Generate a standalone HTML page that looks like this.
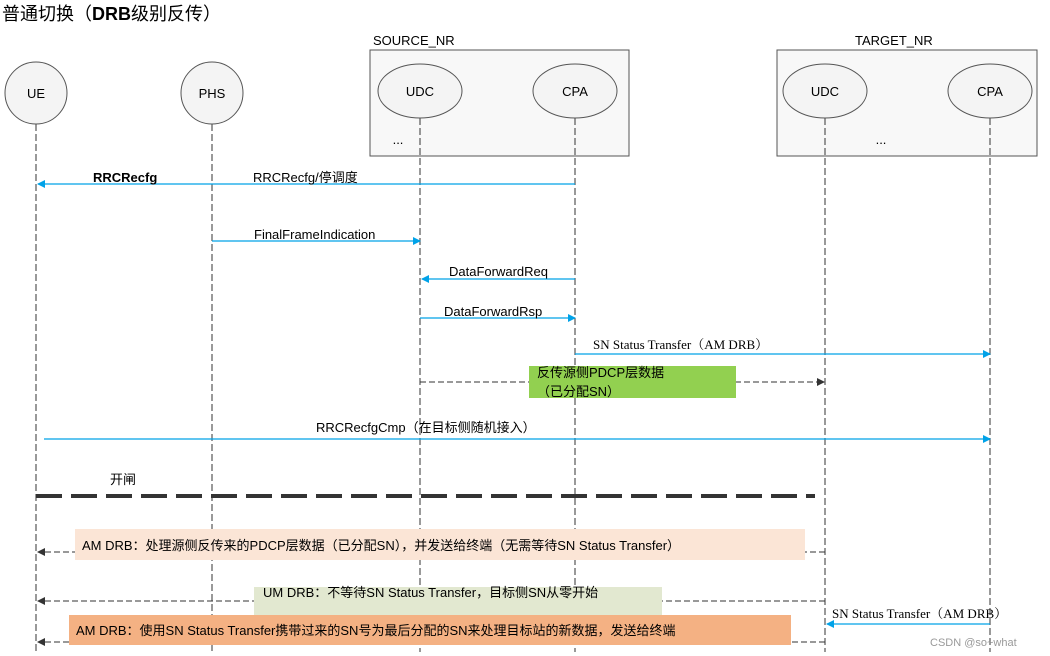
<!DOCTYPE html>
<html><head><meta charset="utf-8"><style>body{margin:0;background:#fff}svg{display:block}</style></head><body>
<svg width="1050" height="656" xmlns="http://www.w3.org/2000/svg" font-family="Liberation Sans, Noto Sans CJK SC, sans-serif">
<defs>
<marker id="ab" markerWidth="8" markerHeight="8" refX="7" refY="4" orient="auto" markerUnits="userSpaceOnUse"><path d="M0,0 L8,4 L0,8 Z" fill="#00a2e8"/></marker>
<marker id="ak" markerWidth="8" markerHeight="8" refX="7" refY="4" orient="auto" markerUnits="userSpaceOnUse"><path d="M0,0 L8,4 L0,8 Z" fill="#333"/></marker>
</defs>
<text x="2" y="20" font-size="18" fill="#000">普通切换（<tspan font-weight="bold">DRB</tspan>级别反传）</text>
<text x="373" y="45" font-size="13">SOURCE_NR</text>
<text x="855" y="45" font-size="13">TARGET_NR</text>
<rect x="370" y="50" width="259" height="106" fill="#f8f8f8" stroke="#555"/>
<rect x="777" y="50" width="260" height="106" fill="#f8f8f8" stroke="#555"/>
<g stroke="#333" stroke-dasharray="7,3" stroke-width="1">
<line x1="36" y1="124" x2="36" y2="652"/><line x1="212" y1="124" x2="212" y2="652"/>
<line x1="420" y1="118" x2="420" y2="652"/><line x1="575" y1="118" x2="575" y2="652"/>
<line x1="825" y1="118" x2="825" y2="652"/><line x1="990" y1="118" x2="990" y2="652"/>
</g>
<g fill="#f4f4f4" stroke="#555">
<circle cx="36" cy="93" r="31"/><circle cx="212" cy="93" r="31"/>
<ellipse cx="420" cy="91" rx="42" ry="27"/><ellipse cx="575" cy="91" rx="42" ry="27"/>
<ellipse cx="825" cy="91" rx="42" ry="27"/><ellipse cx="990" cy="91" rx="42" ry="27"/>
</g>
<g font-size="13" text-anchor="middle">
<text x="36" y="98">UE</text><text x="212" y="98">PHS</text>
<text x="420" y="96">UDC</text><text x="575" y="96">CPA</text>
<text x="825" y="96">UDC</text><text x="990" y="96">CPA</text>
<text x="398" y="144">...</text><text x="881" y="144">...</text>
</g>
<g stroke="#00a2e8" stroke-width="1.3" fill="none">
<line x1="575" y1="184" x2="38" y2="184" marker-end="url(#ab)"/>
<line x1="212" y1="241" x2="420" y2="241" marker-end="url(#ab)"/>
<line x1="575" y1="279" x2="422" y2="279" marker-end="url(#ab)"/>
<line x1="420" y1="318" x2="575" y2="318" marker-end="url(#ab)"/>
<line x1="575" y1="354" x2="990" y2="354" marker-end="url(#ab)"/>
<line x1="44" y1="439" x2="990" y2="439" marker-end="url(#ab)"/>
<line x1="990" y1="624" x2="827" y2="624" marker-end="url(#ab)"/>
</g>
<g stroke="#333" stroke-dasharray="6,3" fill="none">
<line x1="420" y1="382" x2="824" y2="382" marker-end="url(#ak)"/>
<line x1="825" y1="552" x2="38" y2="552" marker-end="url(#ak)"/>
<line x1="825" y1="601" x2="38" y2="601" marker-end="url(#ak)"/>
<line x1="825" y1="642" x2="38" y2="642" marker-end="url(#ak)"/>
</g>
<line x1="36" y1="496" x2="815" y2="496" stroke="#333" stroke-width="4" stroke-dasharray="26,9"/>
<rect x="529" y="366" width="207" height="32" fill="#92d050"/>
<rect x="75" y="529" width="730" height="31" fill="#fbe5d6"/>
<rect x="254" y="587" width="408" height="28" fill="#e2e8d0"/>
<rect x="69" y="615" width="722" height="30" fill="#f4b183"/>
<g font-size="13" fill="#000">
<text x="93" y="182" font-weight="bold">RRCRecfg</text>
<text x="253" y="182">RRCRecfg/停调度</text>
<text x="254" y="239">FinalFrameIndication</text>
<text x="449" y="276">DataForwardReq</text>
<text x="444" y="316">DataForwardRsp</text>
<text x="593" y="349" font-family="Liberation Serif, Noto Serif CJK SC, serif">SN Status Transfer（AM DRB）</text>
<text x="537" y="377">反传源侧PDCP层数据</text>
<text x="537" y="396">（已分配SN）</text>
<text x="316" y="432">RRCRecfgCmp（在目标侧随机接入）</text>
<text x="110" y="484">开闸</text>
<text x="82" y="550">AM DRB：处理源侧反传来的PDCP层数据（已分配SN），并发送给终端（无需等待SN Status Transfer）</text>
<text x="263" y="597">UM DRB：不等待SN Status Transfer，目标侧SN从零开始</text>
<text x="76" y="635">AM DRB：使用SN Status Transfer携带过来的SN号为最后分配的SN来处理目标站的新数据，发送给终端</text>
<text x="832" y="618" font-family="Liberation Serif, Noto Serif CJK SC, serif">SN Status Transfer（AM DRB）</text>
</g>
<text x="930" y="646" font-size="11" fill="#999">CSDN @so~what</text>
</svg>
</body></html>
